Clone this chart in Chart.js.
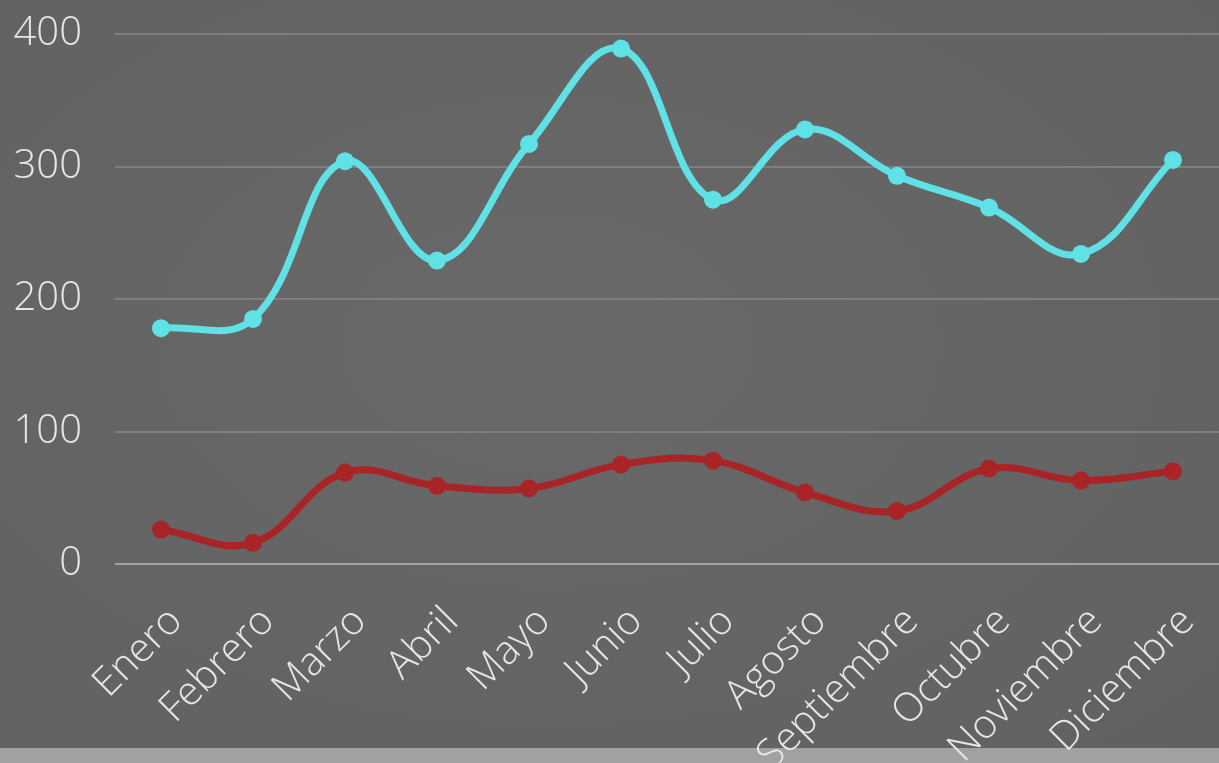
<!DOCTYPE html>
<html>
<head>
<meta charset="utf-8">
<script src="https://cdn.jsdelivr.net/npm/chart.js@4"></script>
<style>
  html, body { margin: 0; padding: 0; }
  body {
    width: 1219px; height: 763px; overflow: hidden; position: relative;
    background: radial-gradient(ellipse at 45% 45%, #696969 0%, #656565 45%, #616161 100%);
  }
  #strip { position: absolute; left: 0; top: 748px; width: 1219px; height: 15px; background: #a1a1a1; }
  #wrap { position: absolute; left: 0; top: 0; width: 1219px; height: 763px; }
</style>
</head>
<body>
<div id="strip"></div>
<div id="wrap"><canvas id="c" width="1219" height="763"></canvas></div>
<script>
const categories = ['Enero','Febrero','Marzo','Abril','Mayo','Junio','Julio','Agosto','Septiembre','Octubre','Noviembre','Diciembre'];
const seriesCyan = [178, 185, 304, 229, 317, 389, 275, 328, 293, 269, 234, 305];
const seriesRed = [26, 16, 69, 59, 57, 75, 78, 54, 40, 72, 63, 70];
const yTicks = [0, 100, 200, 300, 400];

const labelFont = { family: 'Open Sans', weight: 300 };

new Chart(document.getElementById('c'), {
  type: 'line',
  data: {
    labels: categories,
    datasets: [
      {
        data: seriesCyan,
        borderColor: '#5fe1e5',
        backgroundColor: '#5fe1e5',
        borderWidth: 7,
        pointRadius: 9,
        pointHoverRadius: 9,
        pointBorderWidth: 0,
        tension: 0.4,
        fill: false
      },
      {
        data: seriesRed,
        borderColor: '#a82426',
        backgroundColor: '#a82426',
        borderWidth: 7,
        pointRadius: 9,
        pointHoverRadius: 9,
        pointBorderWidth: 0,
        tension: 0.4,
        fill: false
      }
    ]
  },
  options: {
    responsive: false,
    animation: false,
    layout: { autoPadding: false, padding: { top: 34, left: 0, right: 0, bottom: 0 } },
    plugins: { legend: { display: false }, tooltip: { enabled: false } },
    scales: {
      x: {
        offset: true,
        grid: { display: false, drawTicks: false },
        border: { display: false },
        ticks: {
          color: '#e6e6e6',
          font: { ...labelFont, size: 40 },
          minRotation: 45,
          maxRotation: 45,
          padding: 34,
          labelOffset: 15,
          autoSkip: false
        },
        afterFit: (s) => { s.height = 199; s.paddingLeft = 0; s.paddingRight = 0; s.paddingTop = 0; s.paddingBottom = 0; }
      },
      y: {
        min: 0,
        max: 400,
        afterBuildTicks: (s) => { s.ticks = yTicks.map(v => ({ value: v })); },
        grid: {
          drawTicks: false,
          lineWidth: 2,
          color: (ctx) => (ctx.tick && ctx.tick.value === 0) ? '#a3a3a3' : '#7f7f7f'
        },
        border: { display: false },
        ticks: {
          color: '#e6e6e6',
          font: { ...labelFont, size: 40 },
          padding: 33
        },
        afterFit: (s) => { s.width = 115; s.paddingTop = 0; s.paddingBottom = 0; s.paddingLeft = 0; s.paddingRight = 0; }
      }
    }
  }
});
</script>
</body>
</html>
